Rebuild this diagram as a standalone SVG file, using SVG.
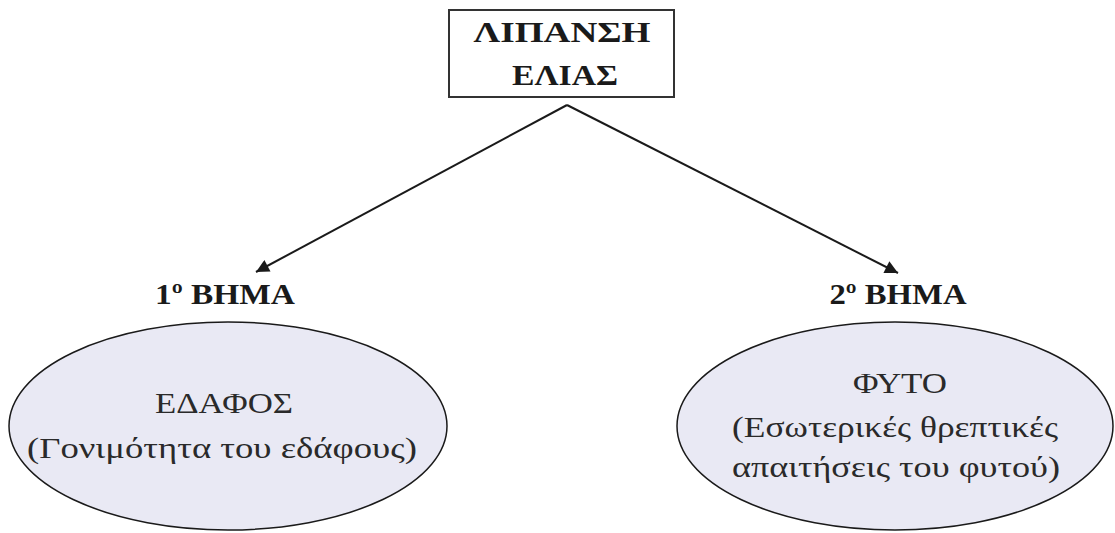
<svg xmlns="http://www.w3.org/2000/svg" width="1115" height="533" viewBox="0 0 1115 533">
<defs>
<marker id="ah" viewBox="0 0 10 10" refX="10" refY="5" markerWidth="16" markerHeight="13" markerUnits="userSpaceOnUse" orient="auto">
<path d="M0,0 L10,5 L0,10 z" fill="#1a1a1a"/>
</marker>
</defs>
<style>
.b{font-family:"Liberation Serif","DejaVu Serif",serif;font-weight:bold;fill:#1a1a1a;text-anchor:middle}
.r{font-family:"Liberation Serif","DejaVu Serif",serif;fill:#2a2a2a;text-anchor:middle}
.ell{fill:#e9e9f4;stroke:#1a1a1a;stroke-width:1.5}
.conn{stroke:#1a1a1a;stroke-width:2;fill:none}
</style>
<rect width="1115" height="533" fill="#ffffff"/>
<g id="connectors">
<path class="conn" d="M567,105 L256,272" marker-end="url(#ah)"/>
<path class="conn" d="M567,105 L898,273" marker-end="url(#ah)"/>
</g>
<g id="root">
<rect x="449" y="10" width="225" height="87" fill="#ffffff" stroke="#333" stroke-width="2"/>
<text class="b" x="562" y="42" font-size="30" textLength="177" lengthAdjust="spacingAndGlyphs">ΛΙΠΑΝΣΗ</text>
<text class="b" x="565" y="85" font-size="30" textLength="106" lengthAdjust="spacingAndGlyphs">ΕΛΙΑΣ</text>
</g>
<g id="step1">
<text class="b" x="225" y="304" font-size="30" textLength="140" lengthAdjust="spacingAndGlyphs">1º ΒΗΜΑ</text>
<ellipse class="ell" cx="228" cy="426" rx="219" ry="104"/>
<text class="r" x="224" y="413" font-size="30" textLength="138" lengthAdjust="spacingAndGlyphs">ΕΔΑΦΟΣ</text>
<text class="r" x="222" y="458" font-size="30" textLength="390" lengthAdjust="spacingAndGlyphs">(Γονιμότητα του εδάφους)</text>
</g>
<g id="step2">
<text class="b" x="898" y="304" font-size="30" textLength="137" lengthAdjust="spacingAndGlyphs">2º ΒΗΜΑ</text>
<ellipse class="ell" cx="895" cy="426" rx="218" ry="104"/>
<text class="r" x="900" y="393" font-size="30" textLength="94" lengthAdjust="spacingAndGlyphs">ΦΥΤΟ</text>
<text class="r" x="895" y="437" font-size="30" textLength="326" lengthAdjust="spacingAndGlyphs">(Εσωτερικές θρεπτικές</text>
<text class="r" x="896" y="477" font-size="30" textLength="328" lengthAdjust="spacingAndGlyphs">απαιτήσεις του φυτού)</text>
</g>
</svg>
